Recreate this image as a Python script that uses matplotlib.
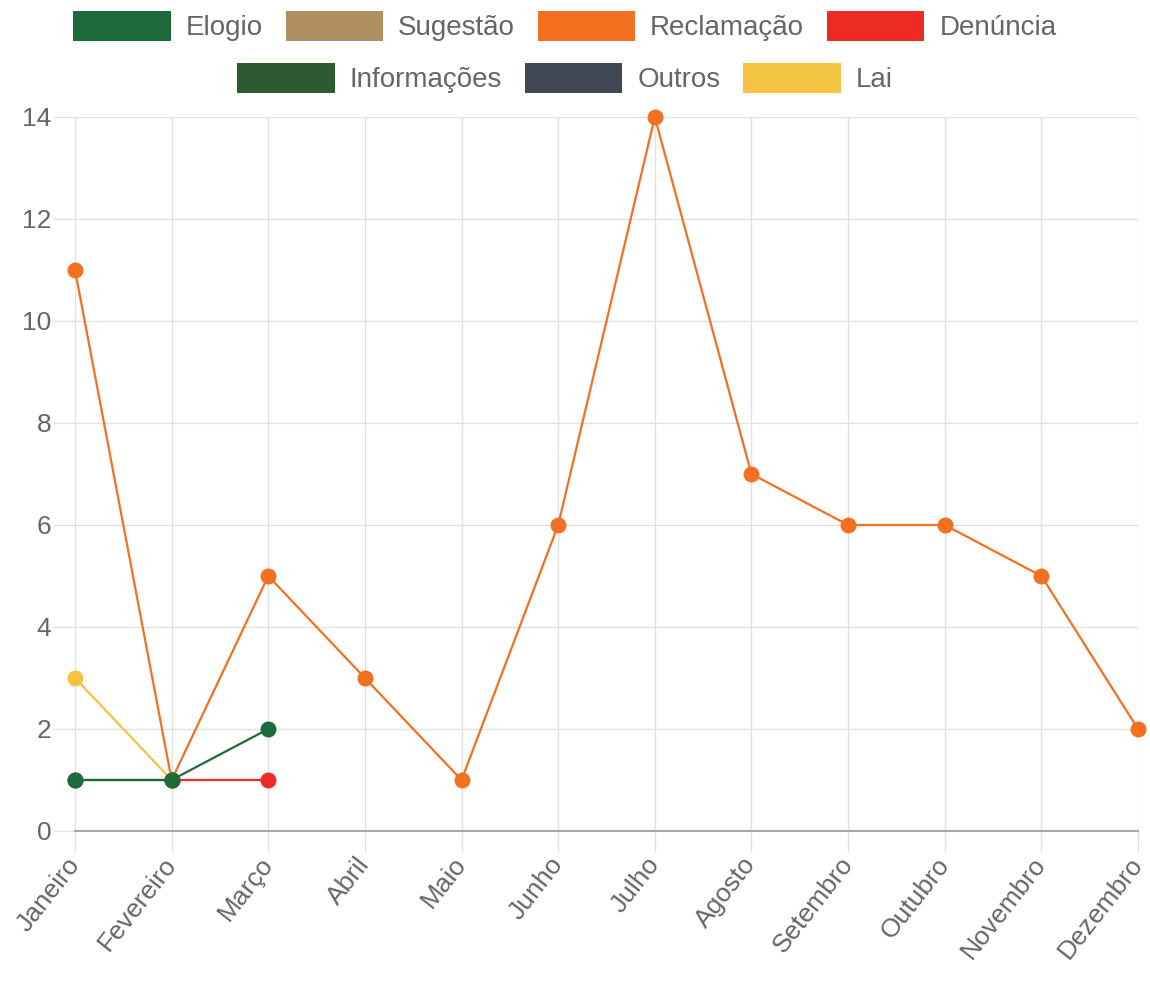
import matplotlib
matplotlib.use("Agg")
import matplotlib.pyplot as plt
from matplotlib.patches import Patch

plt.rcParams["font.family"] = ["Liberation Sans", "DejaVu Sans"]

MONTHS = ["Janeiro", "Fevereiro", "Março", "Abril", "Maio", "Junho",
          "Julho", "Agosto", "Setembro", "Outubro", "Novembro", "Dezembro"]

SERIES = ["Elogio", "Sugestão", "Reclamação", "Denúncia",
          "Informações", "Outros", "Lai"]
COLORS = ["#1d6b3c", "#b09060", "#f37021", "#ee2a24",
          "#2d5a2e", "#3f4853", "#f5c342"]

elogio = [1, 1, 2]
sugestao = []
reclamacao = [11, 1, 5, 3, 1, 6, 14, 7, 6, 6, 5, 2]
denuncia = [None, 1, 1]
informacoes = [1, 1]
outros = []
lai = [3, 1]

data = [elogio, sugestao, reclamacao, denuncia, informacoes, outros, lai]

fig = plt.figure(figsize=(11.5, 9.99), dpi=100)
ax = fig.add_axes([75 / 1150, 1 - 831 / 999, (1138 - 75) / 1150, (831 - 117) / 999])

# chart.js draws the first dataset on top
for i in reversed(range(len(SERIES))):
    vals = data[i]
    if not vals:
        continue
    xs = [k for k, v in enumerate(vals) if v is not None]
    ys = [v for v in vals if v is not None]
    ax.plot(xs, ys, color=COLORS[i], lw=1.6, marker="o", markersize=11.5,
            markeredgewidth=0, zorder=3 + (len(SERIES) - i), clip_on=False)

ax.set_xlim(0, 11)
ax.set_ylim(0, 14)
ax.set_yticks(range(0, 15, 2))
ax.set_xticks(range(12))
ax.set_xticklabels(MONTHS, rotation=52, ha="right", va="center",
                   rotation_mode="anchor")
ax.grid(True, color="#e1e1e1", lw=1)
ax.set_axisbelow(True)
for s in ["top", "right", "left"]:
    ax.spines[s].set_visible(False)
ax.spines["bottom"].set_color("#a8a8a8")
ax.spines["bottom"].set_linewidth(1.5)
ax.tick_params(axis="both", colors="#e1e1e1", labelcolor="#666666",
               labelsize=19, width=1)
ax.tick_params(axis="y", length=16, pad=1)
ax.tick_params(axis="x", length=15, pad=6)

def legend_row(names, colors, y):
    handles = [Patch(facecolor=c, edgecolor="none") for c in colors]
    leg = fig.legend(handles, names, loc="center", bbox_to_anchor=(565 / 1150, y),
                     ncol=len(names), frameon=False, fontsize=20,
                     handlelength=3.5, handleheight=1.3, handletextpad=0.54,
                     columnspacing=0.83, labelcolor="#666666")
    return leg

legend_row(SERIES[:4], COLORS[:4], 1 - 26 / 999)
legend_row(SERIES[4:], COLORS[4:], 1 - 78 / 999)

fig.savefig("out.png", dpi=100)
